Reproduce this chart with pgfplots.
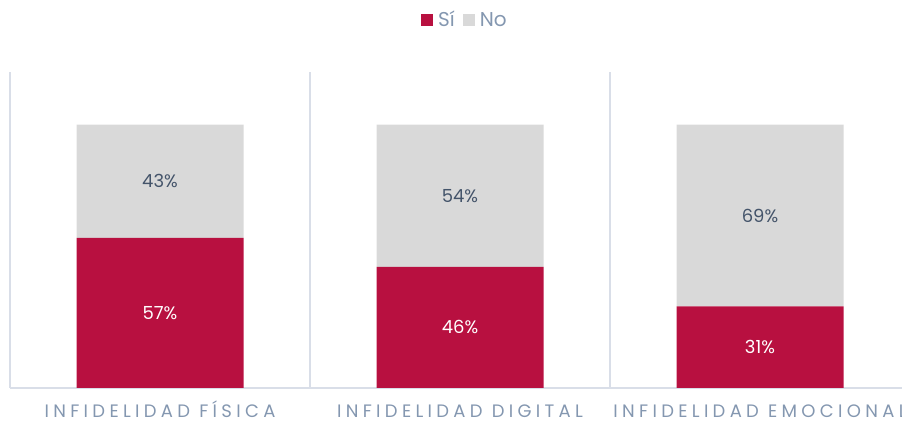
\documentclass[border=0pt]{standalone}
\usepackage{fontspec}
\setmainfont{Poppins}
\usepackage{pgfplots}
\pgfplotsset{compat=1.18}
\definecolor{si}{HTML}{B81040}
\definecolor{no}{HTML}{D9D9D9}
\definecolor{lbl}{HTML}{8497B0}
\definecolor{txt}{HTML}{44546A}
\definecolor{sep}{HTML}{D9DEE8}
\newcommand{\pct}{\fontsize{18}{18}\selectfont}

\begin{document}
\begin{tikzpicture}
\useasboundingbox (0,0) rectangle (902pt,423pt);
\begin{axis}[
  at={(10pt,35pt)}, anchor=south west,
  scale only axis, width=900pt, height=316pt,
  ybar stacked, bar width=167pt,
  xmin=-0.5, xmax=2.5, ymin=0, ymax=120,
  axis x line*=bottom, axis y line=none,
  x axis line style={draw=sep, line width=2pt, -},
  xtick={0,1,2},
  xticklabels={INFIDELIDAD FÍSICA, INFIDELIDAD DIGITAL, INFIDELIDAD EMOCIONAL},
  major tick length=0pt,
  xticklabel style={font=\fontsize{18}{18}\selectfont\addfontfeatures{LetterSpace=24}, text=lbl, anchor=base, inner ysep=0pt, yshift=-30pt},
  minor xtick={-0.5,0.5,1.5,2.5},
  xminorgrids=true,
  minor grid style={draw=sep, line width=1.5pt},
  minor tick length=0pt,
  ytick=\empty,
  legend style={at={(0.5055,1.165)}, anchor=center, draw=none, fill=none,
    legend columns=2, font=\fontsize{20}{20}\selectfont, text=lbl,
    /tikz/every even column/.append style={column sep=6pt}},
  legend image code/.code={\fill[#1] (0pt,-6pt) rectangle (12pt,6pt); \path (15pt,0pt);},
]
\addplot[fill=si, draw=none] coordinates {(0,57) (1,46) (2,31)};
\addplot[fill=no, draw=none] coordinates {(0,43) (1,54) (2,69)};
\legend{Sí, No}
\coordinate (s0) at (axis cs:0,28.5);
\coordinate (s1) at (axis cs:1,23);
\coordinate (s2) at (axis cs:2,15.5);
\coordinate (n0) at (axis cs:0,78.5);
\coordinate (n1) at (axis cs:1,73);
\coordinate (n2) at (axis cs:2,65.5);
\end{axis}
\node[text=white, font=\pct] at (s0) {57\%};
\node[text=white, font=\pct] at (s1) {46\%};
\node[text=white, font=\pct] at (s2) {31\%};
\node[text=txt, font=\pct] at (n0) {43\%};
\node[text=txt, font=\pct] at (n1) {54\%};
\node[text=txt, font=\pct] at (n2) {69\%};
\end{tikzpicture}
\end{document}
